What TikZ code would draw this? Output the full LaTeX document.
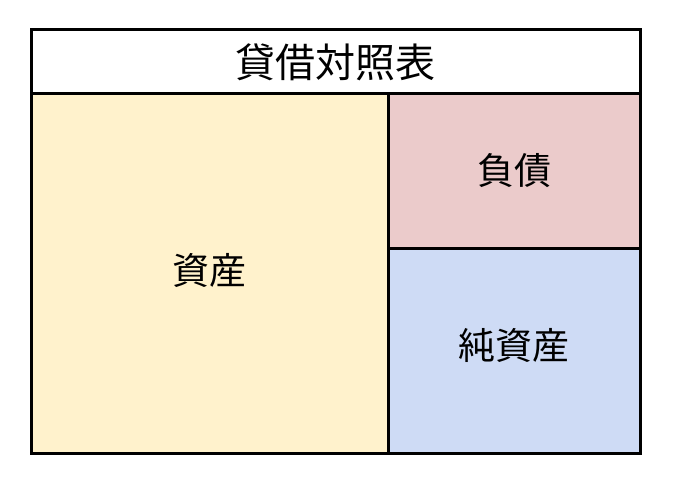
\documentclass[tikz,border=0pt]{standalone}
\usepackage{fontspec}
\newfontfamily\jpfont{Noto Sans CJK JP}
\usetikzlibrary{positioning}
\definecolor{assetfill}{HTML}{FFF2CC}
\definecolor{liabfill}{HTML}{EBCBCB}
\definecolor{equityfill}{HTML}{CEDBF5}
\begin{document}
\begin{tikzpicture}[x=1pt,y=-1pt,
    cell/.style={draw,line width=3pt,inner sep=0pt,outer sep=0pt,anchor=north west},
    heading/.style={font=\jpfont\fontsize{40}{42}\selectfont},
    txt/.style={font=\jpfont\fontsize{37}{40}\selectfont}]
      \useasboundingbox (0,0) rectangle (682,478);
      \node[cell,heading,fill=white,minimum width=609pt,minimum height=64pt]
        (title) at (31,30) {貸借対照表};
      \node[cell,fill=assetfill,minimum width=357pt,minimum height=359pt,
        label={[txt,yshift=3pt]center:資産}] (asset) at (title.south west) {};
      \node[cell,fill=liabfill,minimum width=252pt,minimum height=155pt,
        label={[txt,yshift=1pt]center:負債}] (liab) at (asset.north east) {};
      \node[cell,fill=equityfill,minimum width=252pt,minimum height=204pt,
        label={[txt,yshift=6pt]center:純資産}] (equity) at (liab.south west) {};
    \end{tikzpicture}
\end{document}
